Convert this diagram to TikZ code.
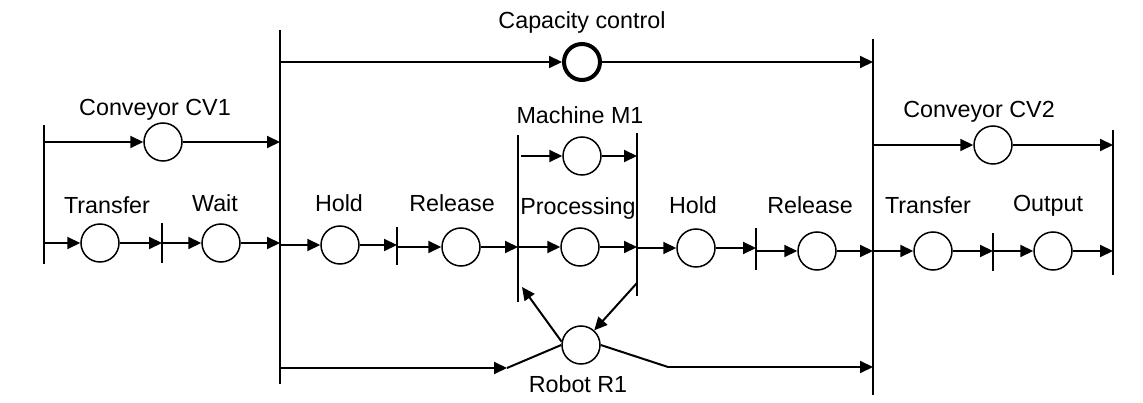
\documentclass[tikz,border=0pt]{standalone}
\usepackage{fontspec}
\setmainfont{Liberation Sans}
\usetikzlibrary{arrows.meta}
\begin{document}
\begin{tikzpicture}[x=1pt,y=-1pt,
  place/.style={circle,draw,line width=1.5pt,minimum size=38pt,inner sep=0pt},
  bigplace/.style={circle,draw,line width=4pt,minimum size=36pt,inner sep=0pt},
  bar/.style={rectangle,fill=black,minimum width=2.2pt,inner sep=0pt},
  lbl/.style={anchor=base,inner sep=0pt,font=\fontsize{23.3}{27}\selectfont},
  arr/.style={line width=2pt,-{Triangle[length=13pt,width=12pt]}},
  ln/.style={line width=2pt}]
\useasboundingbox (0,0) rectangle (1143,403);
% bars
\node[bar,minimum height=139pt] (bA) at (44,194.5) {};
\node[bar,minimum height=354pt] (bB) at (280,207) {};
\node[bar,minimum height=40pt] (bC) at (162,243) {};
\node[bar,minimum height=38pt] (bD) at (397,246) {};
\node[bar,minimum height=167pt] (bE) at (518,218.5) {};
\node[bar,minimum height=163pt] (bF) at (637,214.5) {};
\node[bar,minimum height=42pt] (bG) at (756,249) {};
\node[bar,minimum height=356pt] (bH) at (873,217) {};
\node[bar,minimum height=38pt] (bI) at (993,252) {};
\node[bar,minimum height=145pt] (bJ) at (1113,202.5) {};
% places
\node[bigplace] (cap) at (582,62) {};
\node[place] (cv1) at (163,142) {};
\node[place] (m1) at (582,156) {};
\node[place] (cv2) at (993,145) {};
\node[place] (tr1) at (100,243) {};
\node[place] (wt) at (221,243) {};
\node[place] (ho1) at (340,245) {};
\node[place] (re1) at (461,247) {};
\node[place] (pr) at (580,247) {};
\node[place] (ho2) at (696,248) {};
\node[place] (re2) at (817,251) {};
\node[place] (tr2) at (933,251) {};
\node[place] (out) at (1053,251) {};
\node[place] (rob) at (581,345) {};
% labels
\node[lbl] (lcap) at (582,29) {Capacity control};
\node[lbl] (lcv1) at (155,115.5) {Conveyor CV1};
\node[lbl] (lm1) at (580,124) {Machine M1};
\node[lbl] (lcv2) at (979,118) {Conveyor CV2};
\node[lbl] (ltr1) at (107,214) {Transfer};
\node[lbl] (lwt) at (215,212) {Wait};
\node[lbl] (lho1) at (339,212) {Hold};
\node[lbl] (lre1) at (452,212) {Release};
\node[lbl] (lpr) at (578,215) {Processing};
\node[lbl] (lho2) at (693,214) {Hold};
\node[lbl] (lre2) at (810,214) {Release};
\node[lbl] (ltr2) at (928,214) {Transfer};
\node[lbl] (lout) at (1048,212) {Output};
\node[lbl] (lrob) at (578,392) {Robot R1};
% top arcs
\draw[arr] (cap.west -| bB) -- (cap.west);
\draw[arr] (cap.east) -- (cap.east -| bH);
\draw[arr] (cv1.west -| bA) -- (cv1.west);
\draw[arr] (cv1.east) -- (cv1.east -| bB);
\draw[arr] ([xshift=3pt]m1.west -| bE) -- (m1.west);
\draw[arr] (m1.east) -- (m1.east -| bF);
\draw[arr] (cv2.west -| bH) -- (cv2.west);
\draw[arr] (cv2.east) -- (cv2.east -| bJ);
% main row
\draw[arr] (tr1.west -| bA) -- (tr1.west);
\draw[arr] (tr1.east) -- (tr1.east -| bC);
\draw[arr] (wt.west -| bC) -- (wt.west);
\draw[arr] (wt.east) -- (wt.east -| bB);
\draw[arr] (ho1.west -| bB) -- (ho1.west);
\draw[arr] (ho1.east) -- (ho1.east -| bD);
\draw[arr] (re1.west -| bD) -- (re1.west);
\draw[arr] (re1.east) -- (re1.east -| bE);
\draw[arr] (pr.west -| bE) -- (pr.west);
\draw[arr] (pr.east) -- (pr.east -| bF);
\draw[arr] (ho2.west -| bF) -- (ho2.west);
\draw[arr] (ho2.east) -- (ho2.east -| bG);
\draw[arr] (re2.west -| bG) -- (re2.west);
\draw[arr] (re2.east) -- (re2.east -| bH);
\draw[arr] (tr2.west -| bH) -- (tr2.west);
\draw[arr] (tr2.east) -- (tr2.east -| bI);
\draw[arr] (out.west -| bI) -- (out.west);
\draw[arr] (out.east) -- (out.east -| bJ);
% robot
\coordinate (rl) at (507,368);
\coordinate (rr) at (668,367);
\coordinate (eT) at (522,287);
\coordinate (fB) at (637,283);
\draw[arr] (rl -| bB) -- (rl);
\draw[ln] (rl) -- (rob.west);
\draw[arr] (rob.170) -- (eT);
\draw[arr] (fB) -- (rob);
\draw[ln] (rob.east) -- (rr);
\draw[arr] (rr) -- (rr -| bH);
\end{tikzpicture}
\end{document}
